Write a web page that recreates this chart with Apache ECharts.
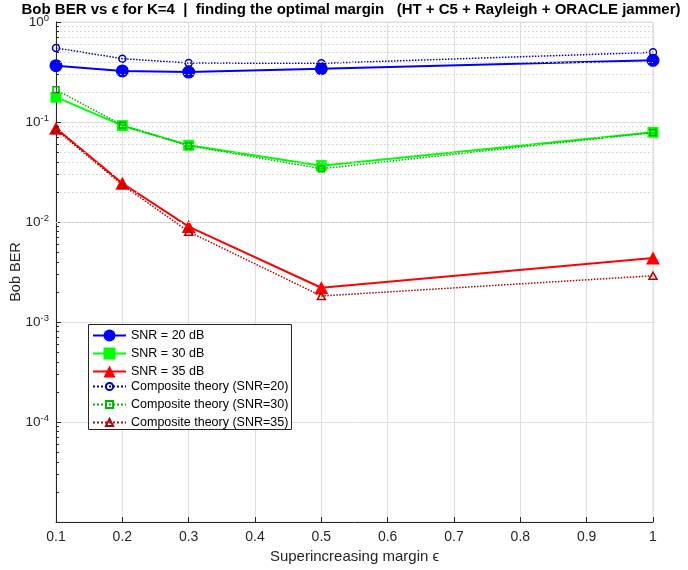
<!DOCTYPE html>
<html><head><meta charset="utf-8">
<script src="https://cdn.jsdelivr.net/npm/echarts@6/dist/echarts.min.js"></script>
<style>html,body{margin:0;padding:0;background:#fff}#c{width:688px;height:570px}</style>
</head><body><div id="c"></div>
<script>
// ---- data ----
const eps = [0.1, 0.2, 0.3, 0.5, 1.0];
const berSNR20 = [0.366, 0.324, 0.316, 0.341, 0.414];
const berSNR30 = [0.177, 0.0919, 0.0585, 0.0366, 0.0788];
const berSNR35 = [0.0865, 0.0244, 0.0090, 0.0022, 0.00437];
const theorySNR20 = [0.55, 0.43, 0.389, 0.386, 0.497];
const theorySNR30 = [0.21, 0.093, 0.058, 0.0341, 0.0785];
const theorySNR35 = [0.084, 0.0235, 0.0080, 0.00182, 0.0029];
const seriesNames = ['SNR = 20 dB', 'SNR = 30 dB', 'SNR = 35 dB'];
const theoryNames = ['Composite theory (SNR=20)', 'Composite theory (SNR=30)', 'Composite theory (SNR=35)'];
const titleText = 'Bob BER vs \u03F5 for K=4  |  finding the optimal margin   (HT + C5 + Rayleigh + ORACLE jammer)';
const xName = 'Superincreasing margin \u03F5';
const yName = 'Bob BER';
const yMin = 1e-5, yMax = 1;
const xMin = 0.1, xMax = 1, xStep = 0.1;

// ---- helpers ----
const FONT = '"Liberation Sans", Arial, Helvetica, sans-serif';
const AX = '#262626';
const pairs = ys => eps.map((x, i) => [x, ys[i]]);

const minorVals = [];
for (let e = -5; e < 0; e++) for (let m = 2; m <= 9; m++) minorVals.push(m * Math.pow(10, e));

const minorGrid = minorVals.map(v => ({ yAxis: v }));
const minorTicks = minorVals.map(v => [{ coord: [xMin, v] }, { coord: [xMin + 0.0045, v] }]);

function solid(name, data, color, symbol, size) {
  return {
    name, type: 'line', data: pairs(data), symbol, symbolSize: size,
    lineStyle: { color, width: 2 }, itemStyle: { color },
    z: 3, animation: false
  };
}
function theory(name, data, color, symbol, size) {
  return {
    name, type: 'line', data: pairs(data), symbol, symbolSize: size,
    lineStyle: { color, width: 1.5, type: 'dotted' },
    itemStyle: { color: 'rgba(255,255,255,0)', borderColor: color, borderWidth: 1.5 },
    z: 4, animation: false
  };
}

const chart = echarts.init(document.getElementById('c'), null, { renderer: 'canvas' });
chart.setOption({
  backgroundColor: '#fff',
  animation: false,
  title: {
    text: titleText, left: 351, textAlign: 'center', top: 2, padding: 0,
    textStyle: { fontFamily: FONT, fontSize: 15, fontWeight: 'bold', color: '#000' }
  },
  grid: { left: 56, right: 35, top: 22, bottom: 48, show: true, borderColor: '#dedede', borderWidth: 1,
    containLabel: false, outerBoundsMode: 'none' },
  xAxis: {
    type: 'value', min: xMin, max: xMax, interval: xStep,
    name: xName, nameLocation: 'middle', nameGap: 22,
    nameTextStyle: { fontFamily: FONT, fontSize: 15, color: AX },
    axisLine: { show: true, lineStyle: { color: AX, width: 1 } },
    axisTick: { show: true, inside: true, length: 5, lineStyle: { color: AX } },
    axisLabel: { fontFamily: FONT, fontSize: 14, color: AX, margin: 8,
      formatter: v => String(+v.toFixed(1)) },
    splitLine: { show: true, lineStyle: { color: '#dedede', width: 1 } }
  },
  yAxis: {
    type: 'log', logBase: 10, min: yMin, max: yMax, splitNumber: 5,
    name: yName, nameLocation: 'middle', nameGap: 33, nameMoveOverlap: false,
    nameTextStyle: { fontFamily: FONT, fontSize: 14.5, color: AX },
    axisLine: { show: true, lineStyle: { color: AX, width: 1 } },
    axisTick: { show: true, inside: true, length: 5, lineStyle: { color: AX } },
    axisLabel: {
      margin: 7,
      formatter: v => {
        if (v < 2 * yMin) return '';
        const e = Math.round(Math.log10(v));
        return '{b|10}{s|' + e + '}';
      },
      rich: {
        b: { fontFamily: FONT, fontSize: 13.5, color: AX },
        s: { fontFamily: FONT, fontSize: 9.5, color: AX, verticalAlign: 'top', padding: [0, 0, 7, 0] }
      }
    },
    splitLine: { show: true, lineStyle: { color: '#dedede', width: 1 } }
  },
  legend: [
    {
      data: seriesNames, orient: 'vertical', left: 92, top: 329,
      itemWidth: 33, itemHeight: 15, itemGap: 5, padding: 0, z: 10, selectedMode: false,
      textStyle: { fontFamily: FONT, fontSize: 12.5, color: '#000' }
    },
    {
      data: theoryNames, orient: 'vertical', left: 92, top: 380,
      itemWidth: 33, itemHeight: 9, itemGap: 5, padding: 0, z: 10, selectedMode: false,
      textStyle: { fontFamily: FONT, fontSize: 12.5, color: '#000' }
    }
  ],
  graphic: [{
    type: 'rect', left: 88, top: 324, z: 8,
    shape: { width: 203, height: 105 },
    style: { fill: '#fff', stroke: AX, lineWidth: 1 }
  }],
  series: [
    {
      name: 'minor-grid', type: 'line', data: [], silent: true, z: 1,
      markLine: {
        silent: true, symbol: ['none', 'none'], label: { show: false }, animation: false,
        lineStyle: { color: '#cfcfcf', width: 1, type: [1.5, 2.5] },
        emphasis: { disabled: true },
        data: minorGrid
      }
    },
    {
      name: 'minor-ticks', type: 'line', data: [], silent: true, z: 1,
      markLine: {
        silent: true, symbol: ['none', 'none'], label: { show: false }, animation: false,
        lineStyle: { color: AX, width: 1, type: 'solid' },
        emphasis: { disabled: true },
        data: minorTicks
      }
    },
    solid(seriesNames[0], berSNR20, '#0000ff', 'circle', 13),
    solid(seriesNames[1], berSNR30, '#00ff00', 'rect', 11),
    solid(seriesNames[2], berSNR35, '#ff0000', 'triangle', [14, 13]),
    theory(theoryNames[0], theorySNR20, '#0000b8', 'circle', 7),
    theory(theoryNames[1], theorySNR30, '#00b300', 'rect', 6),
    theory(theoryNames[2], theorySNR35, '#b30000', 'triangle', [8, 7])
  ]
});
</script>
</body></html>
